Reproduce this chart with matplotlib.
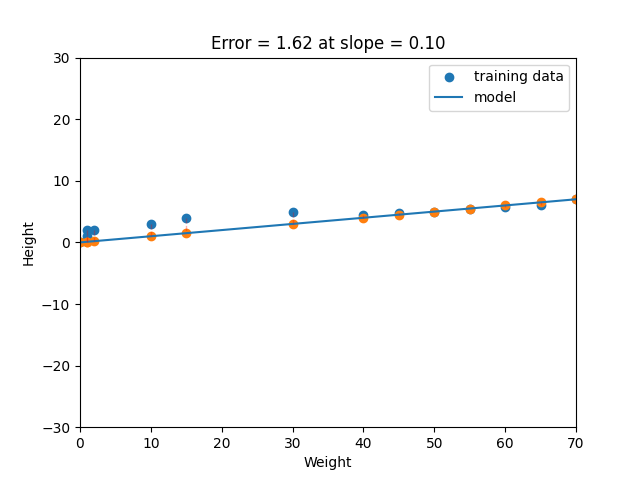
import matplotlib
matplotlib.use('Agg')
import matplotlib.pyplot as plt
import numpy as np

# training data
weight = [0, 1, 1, 2, 10, 15, 30, 40, 45, 50, 55, 60, 65, 70]
height = [0, 2, 1.05, 2, 3, 4, 5, 4.5, 4.85, 5, 5.5, 5.75, 6.1, 7]
slope = 0.10
error = 1.62

x = np.array(weight)
y = np.array(height)
pred = slope * x

fig, ax = plt.subplots(figsize=(6.4, 4.8), dpi=100)
ax.scatter(x, y, color='C0', label='training data')
ax.scatter(x, pred, color='C1')
ax.plot(x, pred, color='C0', label='model')
for xi, yi, pi in zip(x, y, pred):
    ax.plot([xi, xi], [yi, pi], color='r', ls='--', lw=1, alpha=0.3)

ax.set_xlim(0, 70)
ax.set_ylim(-30, 30)
ax.set_xlabel('Weight')
ax.set_ylabel('Height')
ax.set_title('Error = %.2f at slope = %.2f' % (error, slope))
ax.legend(loc='upper right')

plt.savefig('out.png', dpi=100)
